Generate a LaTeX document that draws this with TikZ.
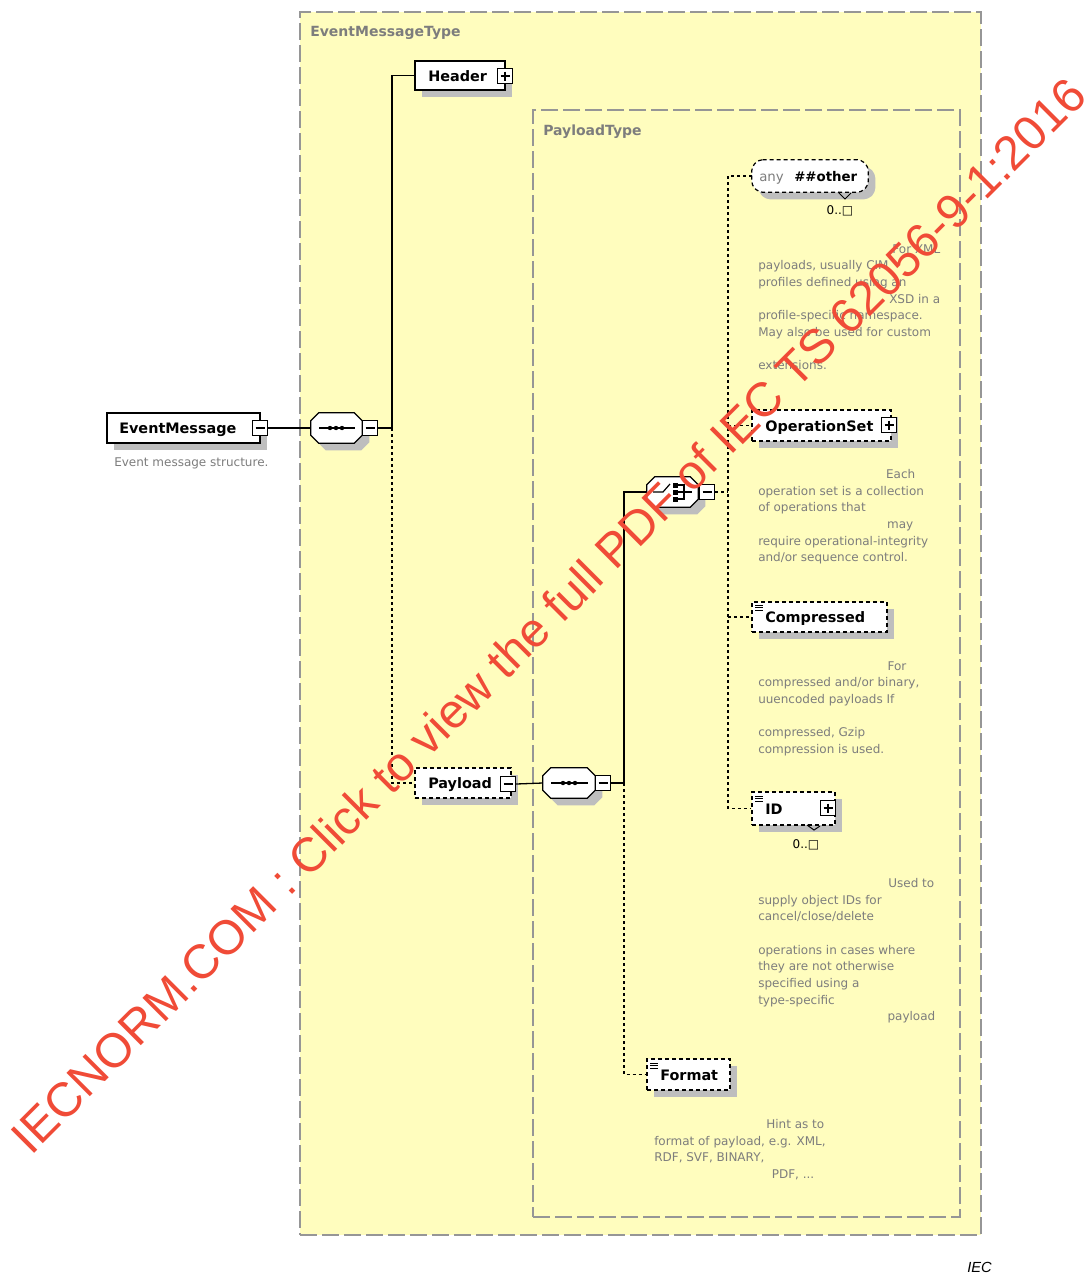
\documentclass[tikz,border=0pt]{standalone}
\usepackage{fontspec}
\setmainfont{DejaVu Sans}
\newfontfamily\wmfont{Liberation Sans}
\usetikzlibrary{shadows,calc}
\newdimen\pxu \pxu=0.75pt
\definecolor{bgyellow}{RGB}{255,253,190}
\definecolor{framegray}{RGB}{150,150,150}
\definecolor{descgray}{RGB}{125,125,125}
\definecolor{shadowgray}{RGB}{190,190,190}
\definecolor{wmred}{RGB}{240,75,55}
\newcommand\chamfpath[4]{($(#1.north west)+({#2+#3},#4)$) -- ($(#1.north east)+({-#2+#3},#4)$) -- ($(#1.north east)+(#3,{#2+#4})$) -- ($(#1.south east)+(#3,{-#2+#4})$) -- ($(#1.south east)+({-#2+#3},#4)$) -- ($(#1.south west)+({#2+#3},#4)$) -- ($(#1.south west)+(#3,{-#2+#4})$) -- ($(#1.north west)+(#3,{#2+#4})$) -- cycle}
\begin{document}
\begin{tikzpicture}[x=0.75pt,y=-0.75pt,
  frame/.style={draw=framegray, fill=bgyellow, line width=2\pxu, dash pattern=on 17\pxu off 5\pxu, inner sep=0},
  typelabel/.style={font=\fontsize{10.5}{12}\selectfont\bfseries, text=descgray, inner sep=0, anchor=base west},
  elname/.style={font=\fontsize{10.8}{13}\selectfont\bfseries, inner sep=0, anchor=base west},
  elbox/.style={draw=black, line width=1.2\pxu, fill=white, inner sep=0, drop shadow={shadow xshift=7\pxu, shadow yshift=-7\pxu, fill=shadowgray, opacity=1}},
  optbox/.style={elbox, dash pattern=on 4\pxu off 3\pxu},
  anchorbox/.style={draw=none, inner sep=0},
  compo/.style={draw=black, line width=1.2\pxu, fill=white},
  compshadow/.style={fill=shadowgray},
  pmbox/.style={draw=black, fill=white, line width=1.4\pxu, minimum size=15\pxu, inner sep=0},
  minus/.style={pmbox, path picture={\draw[line width=1.3\pxu] ($(path picture bounding box.west)+(3,0)$) -- ($(path picture bounding box.east)+(-3,0)$);}},
  plus/.style={pmbox, path picture={\draw[line width=1.3\pxu] ($(path picture bounding box.west)+(3,0)$) -- ($(path picture bounding box.east)+(-3,0)$) ($(path picture bounding box.north)+(0,3)$) -- ($(path picture bounding box.south)+(0,-3)$);}},
  conn/.style={draw=black, line width=1.3\pxu},
  optconn/.style={conn, dash pattern=on 3\pxu off 3\pxu},
  desc/.style={font=\fontsize{9}{12.5}\selectfont, text=descgray, align=left, inner sep=0, anchor=north west},
  occ/.style={font=\fontsize{9}{11}\selectfont, inner sep=0},
  icon/.style={line width=1\pxu, draw=black}
]
\fill[white] (0,0) rectangle (1084,1275);
\useasboundingbox (0,0) rectangle (1084,1275);

% containers
\node[frame, minimum width=681\pxu, minimum height=1223\pxu] (emtype) at (640.5,623.5) {};
\node[typelabel] (emtypel) at (310,36) {EventMessageType};
\node[frame, minimum width=427\pxu, minimum height=1107\pxu] (pltype) at (746.5,663.5) {};
\node[typelabel] (pltypel) at (543,135) {PayloadType};

% compositor anchor boxes
\node[anchorbox, minimum width=51\pxu, minimum height=30\pxu] (s1) at (336.5,428) {};
\node[anchorbox, minimum width=52\pxu, minimum height=30\pxu] (s2) at (569,783) {};
\node[anchorbox, minimum width=51\pxu, minimum height=30\pxu] (ch) at (672.5,492) {};
\node[anchorbox, minimum width=116\pxu, minimum height=32\pxu] (an) at (810,176) {};

% element boxes
\node[elbox, minimum width=153\pxu, minimum height=30\pxu] (em) at (183.5,428) {};
\node[elname] (emt) at (119,433.5) {EventMessage};
\node[elbox, minimum width=90\pxu, minimum height=29\pxu] (hd) at (460,75.5) {};
\node[elname] (hdt) at (428,81) {Header};
\node[optbox, minimum width=96\pxu, minimum height=30\pxu] (pl) at (463,783) {};
\node[elname] (plt) at (428,788.5) {Payload};
\node[optbox, minimum width=139\pxu, minimum height=31\pxu] (os) at (821.5,425.5) {};
\node[elname] (ost) at (765,431) {OperationSet};
\node[optbox, minimum width=135\pxu, minimum height=30\pxu] (cp) at (819.5,617) {};
\node[elname] (cpt) at (765,622.5) {Compressed};
\node[optbox, minimum width=83\pxu, minimum height=33\pxu] (id) at (793.5,808.5) {};
\node[elname] (idt) at (765,814) {ID};
\node[optbox, minimum width=83\pxu, minimum height=31\pxu] (fm) at (688.5,1074.5) {};
\node[elname] (fmt) at (660,1080) {Format};

% compositor shapes
\fill[compshadow] \chamfpath{s1}{8}{7}{7};
\draw[compo] \chamfpath{s1}{8}{0}{0};
\fill[compshadow] \chamfpath{s2}{8}{7}{7};
\draw[compo] \chamfpath{s2}{8}{0}{0};
\fill[compshadow] \chamfpath{ch}{8}{7}{7};
\draw[compo] \chamfpath{ch}{8}{0}{0};
\fill[compshadow, rounded corners=4\pxu] \chamfpath{an}{7}{7}{7};
\draw[compo, rounded corners=4\pxu, dash pattern=on 4\pxu off 3\pxu] \chamfpath{an}{7}{0}{0};
\node[inner sep=0, anchor=base west, font=\fontsize{10}{12}\selectfont, text=descgray] (ant) at (759,181) {any};
\node[inner sep=0, anchor=base west, font=\fontsize{10}{12}\selectfont\bfseries] (ano) at (794,181) {\#\#other};

% sequence icons
\draw[line width=1.2\pxu] (319,428) -- (355,428);
\foreach \xx in {330,336,342} \fill (\xx,428) circle (2.2);
\draw[line width=1.2\pxu] (551,783) -- (588,783);
\foreach \xx in {563,569,575} \fill (\xx,783) circle (2.2);
% choice icon
\draw[line width=1.2\pxu] (653,492) -- (663,492) -- (670,484);
\draw[line width=1.2\pxu] (675,485) -- (684,485) -- (684,499) -- (675,499) (675,492) -- (692,492);
\foreach \yy in {485,492,499} \fill (672.5,\yy-2.5) rectangle (677.5,\yy+2.5);

% plus/minus
\node[minus] (emm) at (260,428) {};
\node[minus] (s1m) at (370,428) {};
\node[plus] (hdp) at (505,76) {};
\node[minus] (plm) at (508,784) {};
\node[minus] (s2m) at (603,783) {};
\node[minus] (chm) at (707,492) {};
\node[plus] (osp) at (889,425) {};
\node[plus] (idp) at (828,808) {};

% simple type icons
\foreach \yy in {605,607.5,610} \draw[icon] (755,\yy) -- (763,\yy);
\foreach \yy in {796,798.5,801} \draw[icon] (755,\yy) -- (763,\yy);
\foreach \yy in {1063,1065.5,1068} \draw[icon] (650,\yy) -- (658,\yy);

% occurrence marks
\draw[line width=1\pxu] (838,192) -- (845,199) -- (851,193);
\node[occ] (anocc) at (840,211) {0..□};
\draw[line width=1\pxu] (807,825) -- (814,830) -- (820,826);
\node[occ] (idocc) at (806,845) {0..□};

% connectors
\coordinate (j1) at (392,428);
\coordinate (j2) at (624,783);
\coordinate (j3) at (728,492);
\draw[conn] (emm.east) -- (s1.west);
\draw[conn] (s1m.east) -- (j1) |- (hd.west);
\draw[optconn] (j1) |- (pl.west);
\draw[conn] (plm.east) -- (s2.west);
\draw[conn] (s2m.east) -- (j2) |- (ch.west);
\draw[optconn] (j2) |- (fm.west);
\draw[optconn] (chm.east) -- (j3);
\draw[optconn] (an.west) -| (j3) |- (id.west);
\draw[optconn] (os.west -| j3) -- (os.west);
\draw[optconn] (cp.west -| j3) -- (cp.west);

% descriptions
\node[desc, anchor=base west] (emd) at (114,466) {Event message structure.};
\node[desc] (d1) at (758,244) {\makebox[182\pxu][r]{For XML}\\payloads, usually CIM\\profiles defined using an\\\makebox[182\pxu][r]{XSD in a}\\profile-specific namespace.\\May also be used for custom\\[12.5pt]extensions.};
\node[desc] (d2) at (758,469) {\makebox[157\pxu][r]{Each}\\operation set is a collection\\of operations that\\\makebox[155\pxu][r]{may}\\require operational-integrity\\and/or sequence control.};
\node[desc] (d3) at (758,661) {\makebox[148\pxu][r]{For}\\compressed and/or binary,\\uuencoded payloads If\\[12.5pt]compressed, Gzip\\compression is used.};
\node[desc] (d4) at (758,878) {\makebox[176\pxu][r]{Used to}\\supply object IDs for\\cancel/close/delete\\[12.5pt]operations in cases where\\they are not otherwise\\specified using a\\type-specific\\\makebox[177\pxu][r]{payload}};
\node[desc] (d5) at (654,1119) {\makebox[170\pxu][r]{Hint as to}\\format of payload, e.g. XML,\\RDF, SVF, BINARY,\\\makebox[160\pxu][r]{PDF, ...}};

% watermark
\node[rotate=45, inner sep=0, font=\wmfont\fontsize{36}{40}\selectfont, text=wmred] (wm) at (548,615) {IECNORM.COM : Click to view the full PDF of IEC TS 62056-9-1:2016};

\node[inner sep=0, anchor=base west, font=\wmfont\itshape\fontsize{11}{13}\selectfont] (iec) at (967,1272) {IEC};
\end{tikzpicture}
\end{document}
